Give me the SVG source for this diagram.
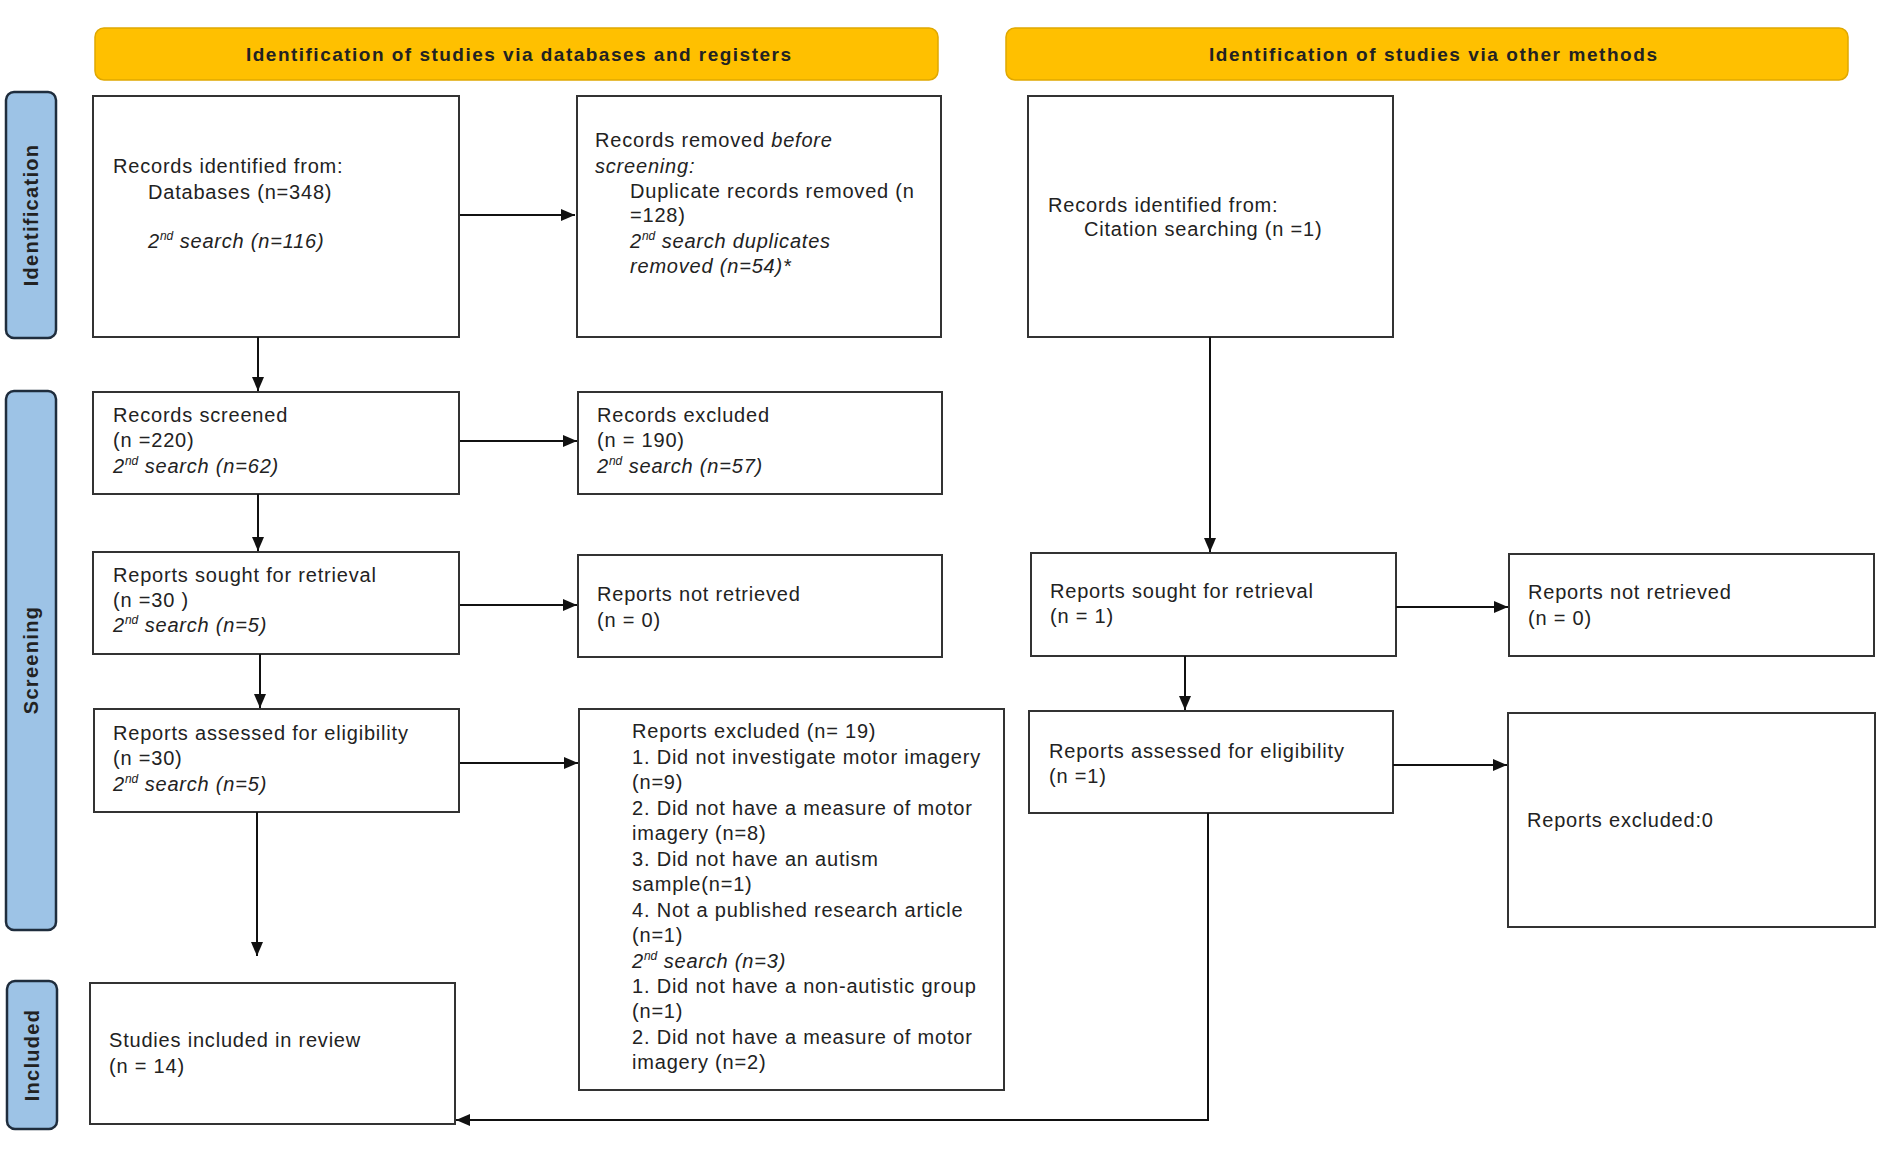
<svg xmlns="http://www.w3.org/2000/svg" width="1890" height="1151" viewBox="0 0 1890 1151">
<style>
text{font-family:"Liberation Sans",Arial,sans-serif;fill:#222;}
.t{font-size:20px;letter-spacing:0.8px;}
.i{font-style:italic;}
.hd{font-size:19px;font-weight:bold;}
.sl{font-size:20px;font-weight:bold;text-anchor:middle;letter-spacing:1.3px;}
.box{fill:#fff;stroke:#333;stroke-width:2;}
.hdr{fill:#FFC000;stroke:#E0A800;stroke-width:1.5;}
.side{fill:#9DC3E6;stroke:#1F2D3D;stroke-width:2.5;}
.c{fill:none;stroke:#111;stroke-width:2;}
.sup{font-size:12px;letter-spacing:0;}
</style>
<defs>
<marker id="ah" viewBox="0 0 14 12" refX="14" refY="6" markerWidth="14" markerHeight="12" markerUnits="userSpaceOnUse" orient="auto">
<path d="M0,0 L14,6 L0,12 z" fill="#111"/>
</marker>
</defs>
<rect width="1890" height="1151" fill="#fff"/>

<g id="header-databases"><rect class="hdr" x="95" y="28" width="843" height="52" rx="9"/><text class="hd" x="246" y="61" textLength="545" lengthAdjust="spacing">Identification of studies via databases and registers</text></g>
<g id="header-other"><rect class="hdr" x="1006" y="28" width="842" height="52" rx="9"/><text class="hd" x="1209" y="61" textLength="448" lengthAdjust="spacing">Identification of studies via other methods</text></g>

<g id="side-identification"><rect class="side" x="6" y="92" width="50" height="246" rx="8"/><text class="sl" transform="translate(38,215) rotate(-90)">Identification</text></g>
<g id="side-screening"><rect class="side" x="6" y="391" width="50" height="539" rx="8"/><text class="sl" transform="translate(38,660) rotate(-90)">Screening</text></g>
<g id="side-included"><rect class="side" x="7" y="981" width="50" height="148" rx="8"/><text class="sl" transform="translate(39,1055) rotate(-90)">Included</text></g>

<g id="records-identified"><rect class="box" x="93" y="96" width="366" height="241"/>
<text class="t" x="113" y="173">Records identified from:</text>
<text class="t" x="148" y="199">Databases (n=348)</text>
<text class="t i" x="148" y="248">2<tspan class="sup" dy="-8">nd</tspan><tspan dy="8"> search (n=116)</tspan></text></g>

<g id="records-removed"><rect class="box" x="577" y="96" width="364" height="241"/>
<text class="t" x="595" y="147">Records removed <tspan class="i">before</tspan></text>
<text class="t i" x="595" y="173">screening:</text>
<text class="t" x="630" y="198">Duplicate records removed (n</text>
<text class="t" x="630" y="222">=128)</text>
<text class="t i" x="630" y="248">2<tspan class="sup" dy="-8">nd</tspan><tspan dy="8"> search duplicates</tspan></text>
<text class="t i" x="630" y="273">removed (n=54)*</text></g>

<g id="citation"><rect class="box" x="1028" y="96" width="365" height="241"/>
<text class="t" x="1048" y="212">Records identified from:</text>
<text class="t" x="1084" y="236">Citation searching (n =1)</text></g>

<g id="records-screened"><rect class="box" x="93" y="392" width="366" height="102"/>
<text class="t" x="113" y="422">Records screened</text>
<text class="t" x="113" y="447">(n =220)</text>
<text class="t i" x="113" y="473">2<tspan class="sup" dy="-8">nd</tspan><tspan dy="8"> search (n=62)</tspan></text></g>

<g id="records-excluded"><rect class="box" x="578" y="392" width="364" height="102"/>
<text class="t" x="597" y="422">Records excluded</text>
<text class="t" x="597" y="447">(n = 190)</text>
<text class="t i" x="597" y="473">2<tspan class="sup" dy="-8">nd</tspan><tspan dy="8"> search (n=57)</tspan></text></g>

<g id="reports-sought"><rect class="box" x="93" y="552" width="366" height="102"/>
<text class="t" x="113" y="582">Reports sought for retrieval</text>
<text class="t" x="113" y="607">(n =30 )</text>
<text class="t i" x="113" y="632">2<tspan class="sup" dy="-8">nd</tspan><tspan dy="8"> search (n=5)</tspan></text></g>

<g id="reports-not-retrieved"><rect class="box" x="578" y="555" width="364" height="102"/>
<text class="t" x="597" y="601">Reports not retrieved</text>
<text class="t" x="597" y="627">(n = 0)</text></g>

<g id="reports-assessed"><rect class="box" x="94" y="709" width="365" height="103"/>
<text class="t" x="113" y="740">Reports assessed for eligibility</text>
<text class="t" x="113" y="765">(n =30)</text>
<text class="t i" x="113" y="791">2<tspan class="sup" dy="-8">nd</tspan><tspan dy="8"> search (n=5)</tspan></text></g>

<g id="reports-excluded"><rect class="box" x="579" y="709" width="425" height="381"/>
<text class="t" x="632" y="738">Reports excluded (n= 19)</text>
<text class="t" x="632" y="764">1. Did not investigate motor imagery</text>
<text class="t" x="632" y="789">(n=9)</text>
<text class="t" x="632" y="815">2. Did not have a measure of motor</text>
<text class="t" x="632" y="840">imagery (n=8)</text>
<text class="t" x="632" y="866">3. Did not have an autism</text>
<text class="t" x="632" y="891">sample(n=1)</text>
<text class="t" x="632" y="917">4. Not a published research article</text>
<text class="t" x="632" y="942">(n=1)</text>
<text class="t i" x="632" y="968">2<tspan class="sup" dy="-8">nd</tspan><tspan dy="8"> search (n=3)</tspan></text>
<text class="t" x="632" y="993">1. Did not have a non-autistic group</text>
<text class="t" x="632" y="1018">(n=1)</text>
<text class="t" x="632" y="1044">2. Did not have a measure of motor</text>
<text class="t" x="632" y="1069">imagery (n=2)</text></g>

<g id="studies-included"><rect class="box" x="90" y="983" width="365" height="141"/>
<text class="t" x="109" y="1047">Studies included in review</text>
<text class="t" x="109" y="1073">(n = 14)</text></g>

<g id="other-sought"><rect class="box" x="1031" y="553" width="365" height="103"/>
<text class="t" x="1050" y="598">Reports sought for retrieval</text>
<text class="t" x="1050" y="623">(n = 1)</text></g>

<g id="other-not-retrieved"><rect class="box" x="1509" y="554" width="365" height="102"/>
<text class="t" x="1528" y="599">Reports not retrieved</text>
<text class="t" x="1528" y="625">(n = 0)</text></g>

<g id="other-assessed"><rect class="box" x="1029" y="711" width="364" height="102"/>
<text class="t" x="1049" y="758">Reports assessed for eligibility</text>
<text class="t" x="1049" y="783">(n =1)</text></g>

<g id="other-excluded"><rect class="box" x="1508" y="713" width="367" height="214"/>
<text class="t" x="1527" y="827">Reports excluded:0</text></g>

<g id="connectors">
<path class="c" d="M460,215 H575" marker-end="url(#ah)"/>
<path class="c" d="M258,337 V391" marker-end="url(#ah)"/>
<path class="c" d="M460,441 H577" marker-end="url(#ah)"/>
<path class="c" d="M258,494 V551" marker-end="url(#ah)"/>
<path class="c" d="M460,605 H577" marker-end="url(#ah)"/>
<path class="c" d="M260,654 V708" marker-end="url(#ah)"/>
<path class="c" d="M460,763 H578" marker-end="url(#ah)"/>
<path class="c" d="M257,812 V956" marker-end="url(#ah)"/>
<path class="c" d="M1210,337 V552" marker-end="url(#ah)"/>
<path class="c" d="M1396,607 H1508" marker-end="url(#ah)"/>
<path class="c" d="M1185,656 V710" marker-end="url(#ah)"/>
<path class="c" d="M1393,765 H1507" marker-end="url(#ah)"/>
<path class="c" d="M1208,813 V1120 H456" marker-end="url(#ah)"/>
</g>
</svg>
